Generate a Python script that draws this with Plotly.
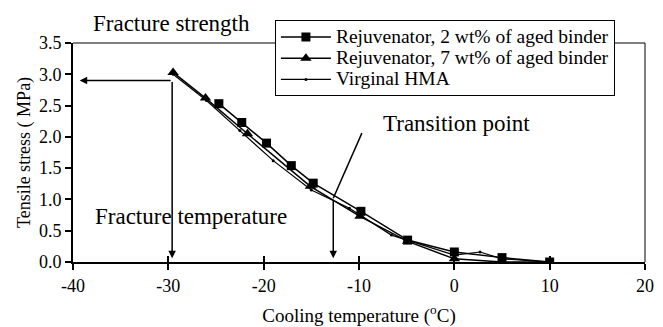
import plotly.graph_objects as go

# Data
rej2_x = [-24.7, -22.3, -19.7, -17.1, -14.8, -9.8, -4.9, 0.0, 5.0, 10.0]
rej2_y = [2.53, 2.23, 1.90, 1.54, 1.26, 0.81, 0.35, 0.16, 0.07, 0.0]

rej7_x = [-29.5, -26.1, -21.7, -15.1, -9.9, -4.9, 0.0, 5.0, 10.0]
rej7_y = [3.03, 2.62, 2.05, 1.21, 0.73, 0.33, 0.05, 0.0, 0.0]

virg_x = [-29.5, -26.0, -22.5, -19.0, -15.0, -11.0, -6.6, -4.9, 0.0, 2.7, 5.0, 10.0]
virg_y = [3.00, 2.58, 2.10, 1.62, 1.15, 0.86, 0.43, 0.35, 0.11, 0.16, 0.05, 0.0]

series_names = ["Rejuvenator, 2 wt% of aged binder",
                "Rejuvenator, 7 wt% of aged binder",
                "Virginal HMA"]

x_ticks = [-40, -30, -20, -10, 0, 10, 20]
y_ticks = [0.0, 0.5, 1.0, 1.5, 2.0, 2.5, 3.0, 3.5]

FONT = "Liberation Serif"


def big(s):
    return '<span style="font-size:19.5px">' + s + '</span>'


fig = go.Figure()
fig.add_trace(go.Scatter(x=rej2_x, y=rej2_y, mode="lines+markers",
                         name=big(series_names[0]),
                         line=dict(color="black", width=1.5),
                         marker=dict(symbol="square", size=9, color="black")))
fig.add_trace(go.Scatter(x=rej7_x, y=rej7_y, mode="lines+markers",
                         name=big(series_names[1]),
                         line=dict(color="black", width=1.5),
                         marker=dict(symbol="triangle-up", size=10, color="black")))
fig.add_trace(go.Scatter(x=virg_x, y=virg_y, mode="lines+markers",
                         name=big(series_names[2]),
                         line=dict(color="black", width=1.2),
                         marker=dict(symbol="circle", size=3, color="black")))

# frame top/right
fig.add_shape(type="line", xref="paper", yref="paper", x0=0, x1=1, y0=1, y1=1,
              line=dict(color="black", width=1))
fig.add_shape(type="line", xref="paper", yref="paper", x0=1, x1=1, y0=0, y1=1,
              line=dict(color="black", width=1))

# Fracture arrows
fig.add_annotation(x=-39.3, y=2.9, ax=-29.6, ay=2.9, axref="x", ayref="y",
                   xref="x", yref="y", text="", showarrow=True,
                   arrowhead=2, arrowsize=1, arrowwidth=1.5, arrowcolor="black")
fig.add_annotation(x=-29.6, y=0.06, ax=-29.6, ay=2.9, axref="x", ayref="y",
                   xref="x", yref="y", text="", showarrow=True,
                   arrowhead=2, arrowsize=1, arrowwidth=1.5, arrowcolor="black")
# Transition arrow
fig.add_shape(type="line", xref="x", yref="y", x0=-9.7, y0=2.06, x1=-12.7, y1=1.02,
              line=dict(color="black", width=1.5))
fig.add_annotation(x=-12.7, y=0.06, ax=-12.7, ay=1.02, axref="x", ayref="y",
                   xref="x", yref="y", text="", showarrow=True,
                   arrowhead=2, arrowsize=1, arrowwidth=1.5, arrowcolor="black")

fig.add_annotation(x=-29.7, y=1.09, xref="x", yref="paper", text="Fracture strength",
                   xanchor="center", yanchor="middle",
                   showarrow=False, font=dict(family=FONT, size=23, color="black"))
fig.add_annotation(x=-27.6, y=0.73, xref="x", yref="y", text="Fracture temperature",
                   xanchor="center", yanchor="middle",
                   showarrow=False, font=dict(family=FONT, size=23, color="black"))
fig.add_annotation(x=0.2, y=2.22, xref="x", yref="y", text="Transition point",
                   xanchor="center", yanchor="middle",
                   showarrow=False, font=dict(family=FONT, size=23, color="black"))

fig.update_layout(
    width=663, height=327,
    margin=dict(l=65, r=26, t=30, b=73),
    paper_bgcolor="white", plot_bgcolor="white",
    font=dict(family=FONT, size=18, color="black"),
    showlegend=True,
    legend=dict(x=0.353, y=1.103, xanchor="left", yanchor="top",
                bgcolor="white", bordercolor="black", borderwidth=1,
                font=dict(family=FONT, size=14, color="black"),
                tracegroupgap=0, itemsizing="trace", itemwidth=50),
    xaxis2=dict(overlaying="x", matches="x", range=[-40, 20], tickvals=x_ticks,
                showticklabels=False, ticks="inside", ticklen=6, tickwidth=1.5,
                tickcolor="black", showgrid=False, zeroline=False, showline=False,
                side="bottom", anchor="y", automargin=False),
)
# invisible trace to activate the tick overlay axis
fig.add_trace(go.Scatter(x=[x_ticks[0]], y=[y_ticks[0]], xaxis="x2", mode="markers",
                         marker=dict(opacity=0), showlegend=False, hoverinfo="skip"))

fig.update_layout(xaxis=dict(
    range=[-40, 20], tickvals=x_ticks, ticktext=[str(v) for v in x_ticks],
    showgrid=False, zeroline=False, showline=True, linecolor="black",
    linewidth=2, ticks="outside", ticklen=6, tickwidth=1.5, tickcolor="black",
    title=dict(text="Cooling temperature (<sup>o</sup>C)", standoff=14,
               font=dict(family=FONT, size=19)),
    tickfont=dict(family=FONT, size=18), automargin=False))
fig.update_layout(yaxis=dict(
    range=[0, 3.5], tickvals=y_ticks, ticktext=[f"{v:.1f}" for v in y_ticks],
    showgrid=False, zeroline=False, showline=True, linecolor="black",
    linewidth=2, ticks="outside", ticklen=6, tickwidth=1.5, tickcolor="black",
    title=dict(text="Tensile stress ( MPa)", standoff=4,
               font=dict(family=FONT, size=18)),
    tickfont=dict(family=FONT, size=18), automargin=False))

fig.write_html("out.html")
